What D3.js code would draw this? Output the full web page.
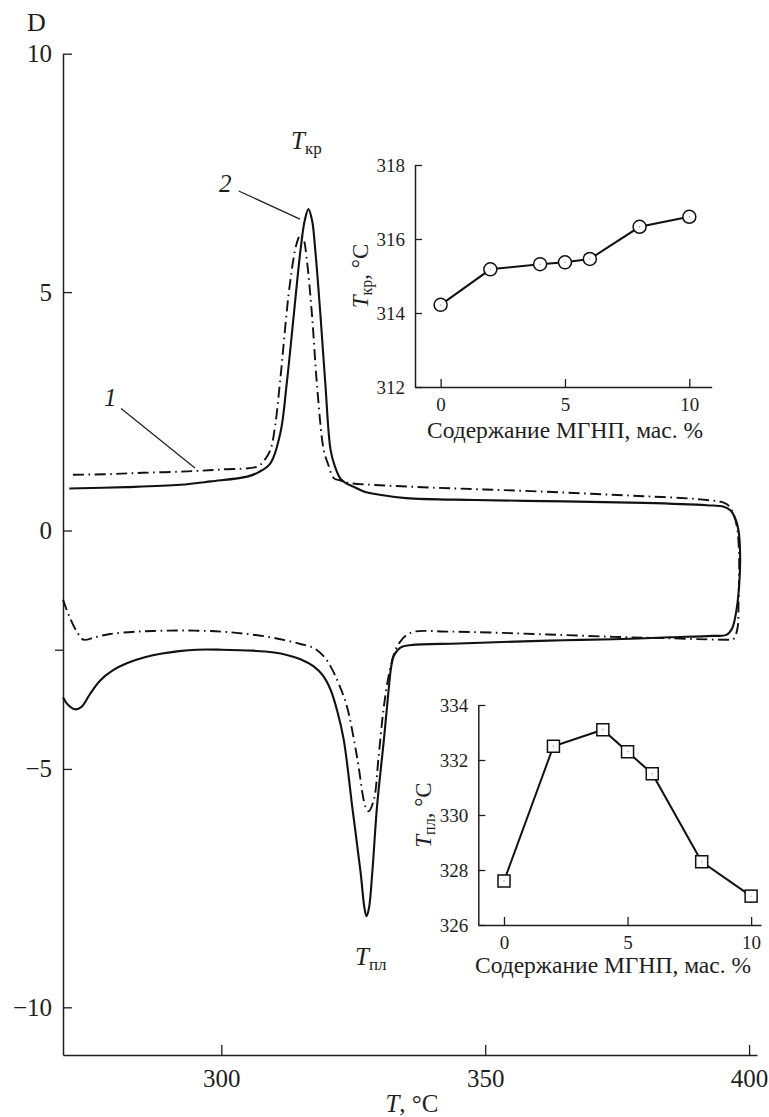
<!DOCTYPE html>
<html><head><meta charset="utf-8">
<script src="https://cdn.jsdelivr.net/npm/d3@7"></script>
<style>
body{margin:0;background:#fff;}
svg{display:block;}
svg text{font-family:"Liberation Serif","Times New Roman","DejaVu Serif",serif !important;}
</style></head>
<body>
<svg id="c" width="769" height="1117"></svg>
<script>
// ---- main DSC curves: [T, D] points, heating branch -> turn -> cooling branch ----
const curve2T = [270.0,271,272.3,273.5,275,277,279.5,282.2,285.5,288.8,292,295.3,300,306,310,312.4,315,317.5,319.3,320.7,322,323.2,324.8,326.4,327.1,327.5,328,328.6,329.5,330.8,331.7,332.2,332.7,334,336,345,355.7,365,374.3,385,393,395.7,
  396.8,397.7,398.2,398.3,398.0,397.4,396.5,395.2,
  392,380,365,348,335,330,327,325,323.5,322.6,321.5,320.7,319.7,318.8,317.8,317.2,316.5,315.8,315.0,313.7,312.4,311.2,309.3,307,304.9,298,292.2,282,271.2];
const curve2D = [-3.50,-3.66,-3.75,-3.70,-3.45,-3.15,-2.93,-2.78,-2.66,-2.58,-2.53,-2.50,-2.50,-2.52,-2.56,-2.61,-2.70,-2.85,-3.05,-3.34,-3.80,-4.39,-5.79,-7.18,-7.90,-8.09,-7.90,-7.18,-5.79,-4.39,-3.34,-2.85,-2.62,-2.45,-2.40,-2.37,-2.33,-2.30,-2.28,-2.24,-2.21,-2.19,
  -2.05,-1.6,-1.0,-0.5,0.0,0.25,0.42,0.50,
  0.53,0.58,0.61,0.64,0.68,0.75,0.82,0.92,1.0,1.08,1.35,1.69,3.09,4.49,5.88,6.50,6.74,6.50,5.88,4.49,3.09,2.05,1.41,1.22,1.13,1.03,0.96,0.91,0.88];

const curve1T = [270.0,271,272.5,273.9,276,278.9,284,289.7,295,299.9,304,308.3,312,315,317.6,319.5,320.7,322.2,323.8,325.7,327.3,327.9,328.9,329.8,330.8,331.8,333,333.9,335,336.6,343,351,362,374.3,385,395.7,397.0,
  397.8,398.0,398.1,398.1,397.8,397.2,396.3,395.3,
  390,380,370,360,350,340,330,324,322.5,321.3,320.2,319.4,318.1,317.2,316.2,315.6,315.0,314.3,313.0,311.1,310.2,309.3,308,306.8,300,293.5,285,278,271.3];
const curve1D = [-1.45,-1.75,-2.10,-2.29,-2.24,-2.17,-2.12,-2.10,-2.10,-2.12,-2.16,-2.22,-2.30,-2.38,-2.47,-2.65,-2.85,-3.20,-3.69,-4.74,-5.79,-5.89,-5.65,-4.74,-3.69,-3.00,-2.50,-2.33,-2.20,-2.12,-2.12,-2.14,-2.18,-2.23,-2.26,-2.29,-2.28,
  -2.05,-1.5,-1.0,-0.5,0.0,0.3,0.5,0.58,
  0.66,0.72,0.77,0.82,0.86,0.90,0.95,1.0,1.05,1.10,1.40,1.69,3.09,4.49,5.68,6.10,6.20,6.03,5.18,3.09,2.20,1.69,1.45,1.34,1.28,1.24,1.21,1.18,1.17];

const mainXTicks = [300, 350, 400];
const mainYTicks = [10, 5, 0, -5, -10];
const mainYMinor = [-2.5];

// ---- insets ----
const content = [0, 2, 4, 5, 6, 8, 10];
const tCryst = [314.22, 315.18, 315.32, 315.37, 315.46, 316.33, 316.6];
const tMelt  = [327.6, 332.5, 333.1, 332.3, 331.5, 328.3, 327.05];
const insetXTicks = [0, 5, 10];
const inset1YTicks = [312, 314, 316, 318];
const inset2YTicks = [326, 328, 330, 332, 334];
const insetXLabel = "Содержание МГНП, мас. %";

const svg = d3.select("#c");
const FONT = '"Liberation Serif","Times New Roman","DejaVu Serif",serif';
const INK = "#1e1e1e";

// main scales
const x = d3.scaleLinear().domain([270, 401.5]).range([63, 757]);
const y = d3.scaleLinear().domain([-11, 10]).range([1055, 53.7]);

function styleAxis(g, size){
  g.attr("font-family", FONT);
  g.select(".domain").attr("stroke", INK).attr("stroke-width", 1.5);
  g.selectAll(".tick line").attr("stroke", INK).attr("stroke-width", 1.3);
  g.selectAll(".tick text").attr("font-size", size).attr("fill", INK).style("font-family", FONT);
}

// main axes
const gx = svg.append("g").attr("transform", "translate(0,1055)")
  .call(d3.axisBottom(x).tickValues(mainXTicks).tickSizeInner(-10).tickSizeOuter(0).tickPadding(14).tickFormat(d3.format("d")));
styleAxis(gx, 25);
const gy = svg.append("g").attr("transform", "translate(63,0)")
  .call(d3.axisLeft(y).tickValues(mainYTicks).tickSizeInner(-9).tickSizeOuter(0).tickPadding(11).tickFormat(d3.format("d")));
styleAxis(gy, 25);
const gyMinor = svg.append("g").attr("transform", "translate(63,0)")
  .call(d3.axisLeft(y).tickValues(mainYMinor).tickSizeInner(8).tickSizeOuter(0).tickFormat(""));
gyMinor.select(".domain").remove();
gyMinor.selectAll(".tick line").attr("stroke", INK).attr("stroke-width", 1.3);

// "D" label
svg.append("text").attr("x", 27).attr("y", 31).attr("font-size", 26).attr("fill", INK).text("D");

// x-axis title
const xt = svg.append("text").attr("x", 412).attr("y", 1112).attr("text-anchor", "middle").attr("font-size", 25).attr("fill", INK);
xt.append("tspan").attr("font-style", "italic").text("T");
xt.append("tspan").text(", °C");

// curves
const line = d3.line().x(d => x(d[0])).y(d => y(d[1])).curve(d3.curveCatmullRom.alpha(0.5));
const c1 = curve1T.map((t, i) => [t, curve1D[i]]);
const c2 = curve2T.map((t, i) => [t, curve2D[i]]);
svg.append("path").attr("d", line(c2)).attr("fill", "none").attr("stroke", "#111").attr("stroke-width", 2.1);
svg.append("path").attr("d", line(c1)).attr("fill", "none").attr("stroke", "#111").attr("stroke-width", 1.9)
  .attr("stroke-dasharray", "11,4.5,1.6,4.5");

// curve labels with leaders
svg.append("line").attr("x1", x(303.3)).attr("y1", y(7.12)).attr("x2", x(314.9)).attr("y2", y(6.53)).attr("stroke", INK).attr("stroke-width", 1.2);
svg.append("text").attr("x", 219).attr("y", 192).attr("font-size", 25).attr("font-style", "italic").attr("fill", INK).text("2");
svg.append("line").attr("x1", x(281.0)).attr("y1", y(2.56)).attr("x2", x(295.0)).attr("y2", y(1.31)).attr("stroke", INK).attr("stroke-width", 1.2);
svg.append("text").attr("x", 104).attr("y", 406).attr("font-size", 25).attr("font-style", "italic").attr("fill", INK).text("1");

// T_kr and T_pl labels
const tk = svg.append("text").attr("x", 291).attr("y", 149).attr("font-size", 25).attr("fill", INK);
tk.append("tspan").attr("font-style", "italic").text("T");
tk.append("tspan").attr("font-size", 17).attr("dy", 5).text("кр");
const tp = svg.append("text").attr("x", 355).attr("y", 965).attr("font-size", 25).attr("fill", INK);
tp.append("tspan").attr("font-style", "italic").text("T");
tp.append("tspan").attr("font-size", 17).attr("dy", 5).text("пл");

// inset builder
function inset(opts){
  const ix = d3.scaleLinear().domain(opts.xDom).range(opts.xRange);
  const iy = d3.scaleLinear().domain(opts.yDom).range(opts.yRange);
  const g = svg.append("g");
  const ax = g.append("g").attr("transform", `translate(0,${opts.yRange[0]})`)
    .call(d3.axisBottom(ix).tickValues(insetXTicks).tickSizeInner(-8).tickSizeOuter(0).tickPadding(11).tickFormat(d3.format("d")));
  styleAxis(ax, 19);
  const ay = g.append("g").attr("transform", `translate(${opts.xRange[0]},0)`)
    .call(d3.axisLeft(iy).tickValues(opts.yTicks).tickSizeInner(-7).tickSizeOuter(0).tickPadding(10).tickFormat(d3.format("d")));
  styleAxis(ay, 19);
  const pts = content.map((c, i) => [c, opts.vals[i]]);
  g.append("path").attr("d", d3.line().x(d => ix(d[0])).y(d => iy(d[1]))(pts))
    .attr("fill", "none").attr("stroke", "#111").attr("stroke-width", 2);
  const m = g.selectAll(".mk").data(pts).enter().append("g").attr("transform", d => `translate(${ix(d[0])},${iy(d[1])})`);
  if (opts.marker === "circle") {
    m.append("circle").attr("r", 6.5).attr("fill", "#fff").attr("stroke", "#111").attr("stroke-width", 1.5);
  } else {
    m.append("rect").attr("x", -6).attr("y", -6).attr("width", 12).attr("height", 12).attr("fill", "#fff").attr("stroke", "#111").attr("stroke-width", 1.5);
  }
  m.append("circle").attr("r", 0.7).attr("fill", "#999");
  // x label
  g.append("text").attr("x", opts.xLabelX).attr("y", opts.xLabelY).attr("text-anchor", "middle")
    .attr("font-size", 23.5).attr("fill", INK).text(insetXLabel);
  // y label
  const yl = g.append("text").attr("transform", `translate(${opts.yLabelX},${opts.yLabelY}) rotate(-90)`)
    .attr("text-anchor", "middle").attr("font-size", 23).attr("fill", INK);
  yl.append("tspan").attr("font-style", "italic").text("T");
  yl.append("tspan").attr("font-size", 16).attr("dy", 4).text(opts.sub);
  yl.append("tspan").attr("dy", -4).text(", °C");
}

inset({xDom: [-1.03, 10.9], xRange: [415, 711.7], yDom: [312, 318], yRange: [387, 165],
  yTicks: inset1YTicks, vals: tCryst, marker: "circle", sub: "кр",
  xLabelX: 565, xLabelY: 438, yLabelX: 368, yLabelY: 276});
inset({xDom: [-1.04, 10.4], xRange: [478.3, 761], yDom: [326, 334], yRange: [925, 705],
  yTicks: inset2YTicks, vals: tMelt, marker: "square", sub: "пл",
  xLabelX: 613, xLabelY: 973, yLabelX: 431, yLabelY: 815});
</script>
</body></html>
